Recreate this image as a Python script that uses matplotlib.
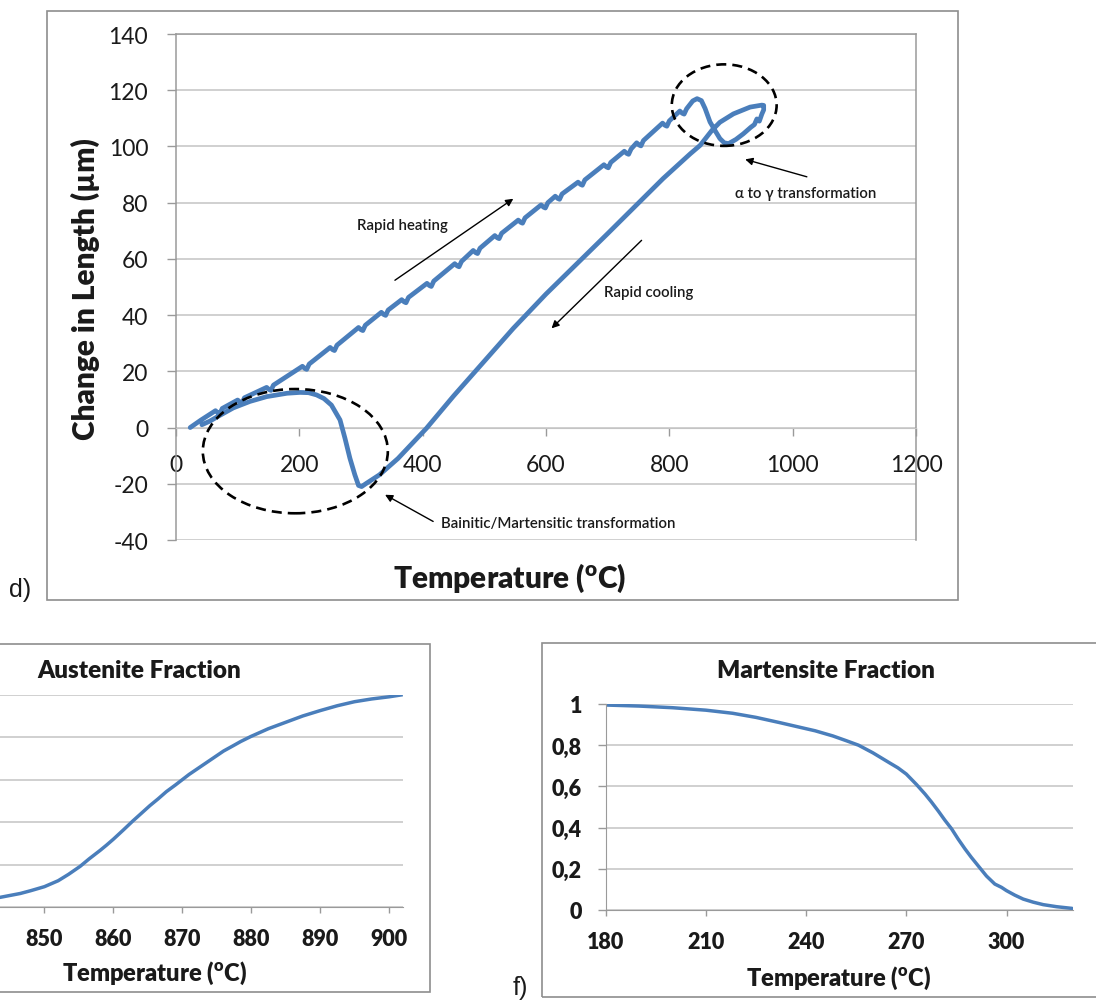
import matplotlib
matplotlib.use('Agg')
import matplotlib.pyplot as plt
from matplotlib.patches import Ellipse, Rectangle

plt.rcParams['font.family'] = ['Lato', 'DejaVu Sans']
plt.rcParams['mathtext.fontset'] = 'custom'
plt.rcParams['mathtext.rm'] = 'Lato'
plt.rcParams['mathtext.bf'] = 'Lato:heavy'

# ---------------- data ----------------
# dilatometry: heating branch (with step wiggles), alpha->gamma, cooling branch
heat_T = [23, 40, 64, 68, 71, 75, 100, 104, 107, 111, 147, 151, 154, 158, 205, 209, 212, 216,
          250, 254, 257, 261, 296, 300, 303, 307, 333, 337, 340, 344, 366, 370, 373, 377,
          407, 411, 414, 418, 452, 456, 459, 463, 482, 486, 489, 493, 517, 521, 524, 528,
          555, 559, 562, 566, 592, 596, 599, 603, 615, 619, 622, 626, 652, 656, 659, 663,
          694, 698, 701, 705, 727, 731, 734, 738, 747, 751, 754, 758, 789, 793, 796, 800,
          817, 821, 824, 828, 838, 845]
heat_L = [0, 2.6, 6.0, 5.2, 4.9, 6.8, 9.8, 9.0, 8.7, 10.6, 14.3, 13.5, 13.2, 15.1, 21.8, 21.0, 20.7, 22.6,
          28.5, 27.7, 27.4, 29.3, 35.6, 34.8, 34.5, 36.4, 41.0, 40.2, 39.9, 41.8, 45.5, 44.7, 44.4, 46.3,
          51.3, 50.5, 50.2, 52.1, 58.3, 57.5, 57.2, 59.1, 63.0, 62.2, 61.9, 63.8, 68.3, 67.5, 67.2, 69.1,
          73.8, 73.0, 72.7, 74.6, 79.2, 78.4, 78.1, 80.0, 82.3, 81.5, 81.2, 83.1, 87.3, 86.5, 86.2, 88.1,
          93.5, 92.7, 92.4, 94.3, 98.3, 97.5, 97.2, 99.1, 101.3, 100.5, 100.2, 102.1, 108.3, 107.5, 107.2, 109.1,
          112.6, 111.8, 111.5, 113.4, 116.2, 117.0]
trans_T = [852, 858, 866, 874, 882, 889, 896, 908, 920, 932, 938, 942, 946, 950, 953, 953]
trans_L = [116.3, 113.5, 108.7, 105.7, 102.8, 101.3, 101.0, 102.5, 104.5, 106.8, 107.8, 109.8, 109.0,
           111.5, 113.0, 114.6]
cool_T = [950, 931, 904, 882, 869, 850, 834, 790, 700, 600, 547, 504, 450, 406, 360, 330, 309,
          301, 296, 290, 282, 274, 266, 252, 240, 228, 215, 201, 180, 147, 120, 93, 70, 55, 42]
cool_L = [114.7, 114.0, 111.6, 108.6, 105.7, 100.4, 97.4, 88.6, 69.0, 47.5, 35.3, 24.6, 11.2, -0.3,
          -11.0, -16.8, -19.8, -21.0, -20.6, -16.8, -10.9, -3.8, 2.7, 8.0, 10.3, 11.6, 12.4, 12.5,
          12.2, 11.0, 9.3, 7.0, 4.2, 2.3, 1.0]

top_xticks = [0, 200, 400, 600, 800, 1000, 1200]
top_yticks = [-40, -20, 0, 20, 40, 60, 80, 100, 120, 140]

# austenite fraction
aus_T = [840, 843.6, 846.5, 848, 850, 852, 853.5, 855.2, 856.5, 858.1, 859, 860, 861.5, 862.8,
         864, 865.3, 866.5, 867.7, 869, 870, 871, 872.5, 873.5, 875, 876, 877.4, 878.5, 880,
         882.5, 885, 887.5, 890, 892.5, 895, 897.5, 900, 902]
aus_F = [0.035, 0.047, 0.065, 0.078, 0.097, 0.125, 0.155, 0.193, 0.228, 0.268, 0.292, 0.32, 0.365,
         0.405, 0.44, 0.478, 0.51, 0.544, 0.575, 0.60, 0.625, 0.658, 0.68, 0.713, 0.735, 0.76,
         0.78, 0.804, 0.84, 0.87, 0.90, 0.925, 0.948, 0.967, 0.98, 0.99, 1.0]
aus_xticks = [850, 860, 870, 880, 890, 900]

# martensite fraction
mar_T = [180, 190, 200, 210, 218, 225, 232, 240, 242.7, 248, 252, 255.7, 260, 264.7, 267.5, 270,
         273, 275.6, 277.5, 279.6, 281.5, 283.6, 285.5, 287.6, 289.5, 291.5, 294, 296.5, 298.5,
         300, 302.5, 305, 308, 311, 315, 319.5, 320]
mar_F = [0.995, 0.99, 0.982, 0.97, 0.955, 0.935, 0.91, 0.88, 0.87, 0.845, 0.822, 0.80, 0.763, 0.717,
         0.69, 0.66, 0.61, 0.563, 0.525, 0.48, 0.437, 0.393, 0.345, 0.296, 0.255, 0.215, 0.165,
         0.126, 0.11, 0.094, 0.072, 0.053, 0.038, 0.026, 0.016, 0.008, 0.006]
mar_xticks = [180, 210, 240, 270, 300]
frac_yticks = [0, 0.2, 0.4, 0.6, 0.8, 1.0]
frac_ylabels = ['0', '0,2', '0,4', '0,6', '0,8', '1']

# ---------------- figure ----------------
W, H = 1096, 1003
fig = plt.figure(figsize=(W / 100, H / 100), dpi=100)


def box(x0, y0, x1, y1):
    return [x0 / W, 1 - y1 / H, (x1 - x0) / W, (y1 - y0) / H]


def fx(x):
    return x / W


def fy(y):
    return 1 - y / H


BLUE = '#4A7EBB'
GRID = '#c4c4c4'
AXC = '#9a9a9a'
TXT = '#1a1a1a'
BW = 'heavy'

# outer chart boxes
for (x0, y0, x1, y1) in [(46.7, 11.7, 958, 601), (-5, 645, 430, 993), (541.7, 644, 1105, 998)]:
    fig.patches.append(Rectangle((x0 / W, 1 - y1 / H), (x1 - x0) / W, (y1 - y0) / H,
                                 transform=fig.transFigure, fill=False, ec='#8e8e8e', lw=1.2))

# ---- top panel ----
ax = fig.add_axes(box(176, 35, 916, 541))
ax.set_xlim(0, 1200)
ax.set_ylim(-40, 140)
ax.plot(heat_T + trans_T + cool_T, heat_L + trans_L + cool_L, color=BLUE, lw=3.4,
        solid_joinstyle='round', solid_capstyle='round', zorder=3)
ax.set_xticks(top_xticks)
ax.set_xticklabels([str(t) for t in top_xticks])
ax.set_yticks(top_yticks)
ax.set_yticklabels([str(t) for t in top_yticks])
ax.yaxis.grid(True, color=GRID, lw=1.1)
ax.set_axisbelow(True)
ax.spines['bottom'].set_position(('data', 0))
ax.spines['bottom'].set_color(GRID)
for s in ['left', 'right', 'top']:
    ax.spines[s].set_color(AXC)
    ax.spines[s].set_linewidth(1.1)
ax.tick_params(axis='x', direction='out', length=6, width=1, color=AXC, pad=13,
               labelsize=16.5, labelcolor=TXT)
ax.tick_params(axis='y', direction='out', length=6.5, width=1, color=AXC, pad=13.5,
               labelsize=16.5, labelcolor=TXT)
for lab in ax.get_xticklabels() + ax.get_yticklabels():
    lab.set_zorder(5)

ax.add_patch(Ellipse((193.5, -8.4), 300, 44.2, fill=False, ec='black', lw=1.9,
                     ls=(0, (3.8, 2.3)), zorder=4))
ax.add_patch(Ellipse((889, 114.7), 170, 29, fill=False, ec='black', lw=1.9,
                     ls=(0, (3.8, 2.3)), zorder=4))

arr = dict(arrowstyle='-|>', color='black', lw=1.0, mutation_scale=11, shrinkA=0, shrinkB=0)
ax.annotate('', xy=(547, 81.4), xytext=(355, 52.4), arrowprops=arr)
ax.annotate('', xy=(609, 35.3), xytext=(755, 66.6), arrowprops=arr)
ax.annotate('', xy=(923, 95.4), xytext=(1023, 89.2), arrowprops=arr)
ax.annotate('', xy=(339, -23.9), xytext=(417, -33.4), arrowprops=arr)
afs = 10.8
aw = 'semibold'
ax.text(367, 72, 'Rapid heating', ha='center', va='center', fontsize=afs, color=TXT, fontweight=aw)
ax.text(767, 48.3, 'Rapid cooling', ha='center', va='center', fontsize=afs, color=TXT, fontweight=aw)
ax.text(1021, 83.6, 'α to γ transformation', ha='center', va='center', fontsize=afs, color=TXT,
        fontweight=aw)
ax.text(430, -34, 'Bainitic/Martensitic transformation', ha='left', va='center',
        fontsize=afs, color=TXT, fontweight=aw)

fig.text(fx(85), fy(289), 'Change in Length (µm)', rotation=90, ha='center', va='center',
         fontsize=21.5, fontweight=BW, color=TXT)
fig.text(fx(510), fy(578), r'Temperature ($\mathbf{^{o}}$C)', ha='center', va='center',
         fontsize=21.5, fontweight=BW, color=TXT)
fig.text(fx(20), fy(590), 'd)', ha='center', va='center', fontsize=18,
         family=['Liberation Sans', 'DejaVu Sans'], color=TXT)
fig.text(fx(520), fy(988), 'f)', ha='center', va='center', fontsize=18,
         family=['Liberation Sans', 'DejaVu Sans'], color=TXT)


def style_frac(a):
    a.yaxis.grid(True, color=GRID, lw=1.1)
    a.set_axisbelow(True)
    a.spines['top'].set_visible(False)
    a.spines['right'].set_visible(False)
    a.spines['bottom'].set_color(AXC)
    a.spines['left'].set_color(AXC)
    a.tick_params(axis='x', direction='out', length=4.5, width=1, color=AXC, pad=10.5,
                  labelsize=15.5, labelcolor=TXT)
    a.tick_params(axis='y', direction='out', length=5.5, width=1, color=AXC, pad=11.5,
                  labelsize=15.5, labelcolor=TXT)
    for lab in a.get_xticklabels() + a.get_yticklabels():
        lab.set_fontweight(BW)


# ---- bottom-left: austenite ----
axL = fig.add_axes(box(-24.5, 695.7, 402.7, 908.3))
axL.plot(aus_T, aus_F, color=BLUE, lw=2.5, solid_capstyle='butt')
axL.set_xlim(840, 902)
axL.set_ylim(0, 1)
axL.set_xticks(aus_xticks)
axL.set_xticklabels([str(t) for t in aus_xticks])
axL.set_yticks(frac_yticks)
axL.set_yticklabels(frac_ylabels)
style_frac(axL)
axL.tick_params(axis='y', labelleft=False, left=False)
fig.text(fx(139), fy(671.5), 'Austenite Fraction', ha='center', va='center', fontsize=17.5,
         fontweight=BW, color=TXT)
fig.text(fx(155), fy(973), r'Temperature ($\mathbf{^{o}}$C)', ha='center', va='center',
         fontsize=17, fontweight=BW, color=TXT)

# ---- bottom-right: martensite ----
axR = fig.add_axes(box(605.7, 705, 1073.3, 911))
axR.plot(mar_T, mar_F, color=BLUE, lw=2.5, solid_capstyle='butt')
axR.set_xlim(180, 320)
axR.set_ylim(0, 1)
axR.set_xticks(mar_xticks)
axR.set_xticklabels([str(t) for t in mar_xticks])
axR.set_yticks(frac_yticks)
axR.set_yticklabels(frac_ylabels)
style_frac(axR)
fig.text(fx(825.5), fy(671), 'Martensite Fraction', ha='center', va='center', fontsize=17.5,
         fontweight=BW, color=TXT)
fig.text(fx(838.8), fy(978), r'Temperature ($\mathbf{^{o}}$C)', ha='center', va='center',
         fontsize=17, fontweight=BW, color=TXT)

fig.savefig('out.png', dpi=100)
